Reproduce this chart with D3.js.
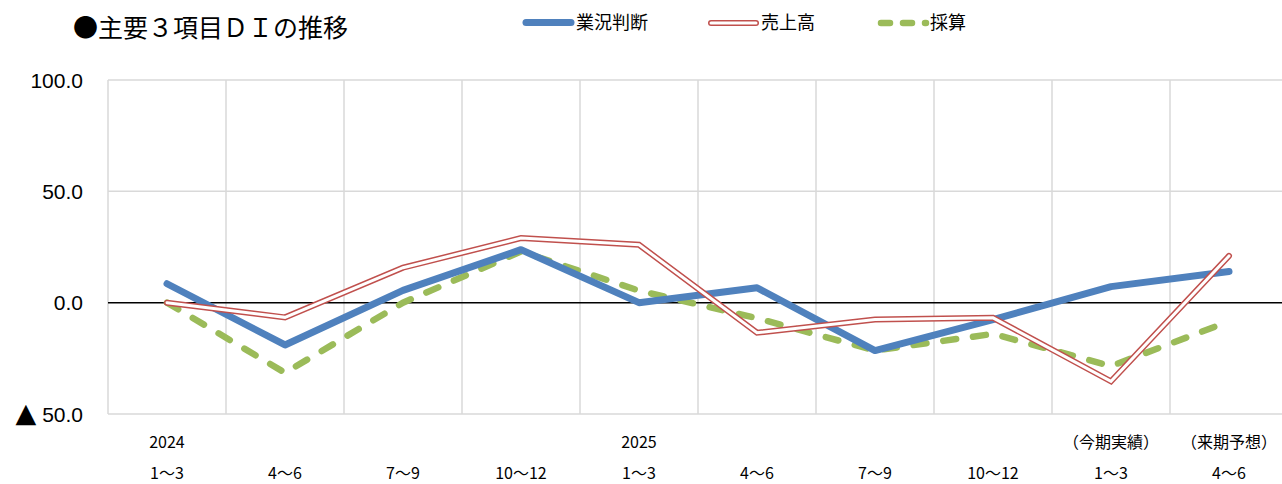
<!DOCTYPE html>
<html>
<head>
<meta charset="utf-8">
<script src="https://cdn.jsdelivr.net/npm/d3@7"></script>
<style>
  body { margin: 0; background: #fff; }
  svg text { font-family: "Noto Sans CJK JP", sans-serif; fill: #000; }
</style>
</head>
<body>
<svg id="chart" width="1282" height="484"></svg>
<script>
// quarters (x axis)
const yearLabels = ['2024', '', '', '', '2025', '', '', '', '（今期実績）', '（来期予想）'];
const quarterLabels = ['1～3', '4～6', '7～9', '10～12', '1～3', '4～6', '7～9', '10～12', '1～3', '4～6'];

// DI values
const gyokyo = [8.5, -19, 5.5, 23.8, 0, 6.7, -21.5, -7.6, 7.2, 14];
const uriage = [0, -6.6, 15.7, 29, 26, -13.5, -7.6, -6.8, -35.3, 21];
const saisan = [0, -31.5, 0, 23, 5.4, -7, -21.5, -14, -28.5, -8.4];

const yTicks = [100, 50, 0, -50];

const svg = d3.select('#chart');

const x = d3.scaleBand()
    .domain(d3.range(quarterLabels.length))
    .range([108, 1288]);
const y = d3.scaleLinear()
    .domain([-50, 100])
    .range([414, 80]);

const cx = i => x(i) + x.bandwidth() / 2;

// horizontal gridlines
svg.append('g')
    .selectAll('line')
    .data(yTicks.filter(t => t !== 0))
    .enter().append('line')
    .attr('x1', 108).attr('x2', 1288)
    .attr('y1', d => y(d)).attr('y2', d => y(d))
    .attr('stroke', '#d9d9d9').attr('stroke-width', 1.5);

// vertical gridlines (category boundaries)
svg.append('g')
    .selectAll('line')
    .data(d3.range(quarterLabels.length))
    .enter().append('line')
    .attr('x1', d => x(d)).attr('x2', d => x(d))
    .attr('y1', y(100)).attr('y2', y(-50))
    .attr('stroke', '#d9d9d9').attr('stroke-width', 1.5);

// zero line
svg.append('line')
    .attr('x1', 108).attr('x2', 1288)
    .attr('y1', y(0)).attr('y2', y(0))
    .attr('stroke', '#000').attr('stroke-width', 1.5);

// y labels (negatives get a big triangle in front)
const yLab = svg.append('g')
    .selectAll('text')
    .data(yTicks)
    .enter().append('text')
    .attr('x', 83)
    .attr('y', d => y(d))
    .attr('dy', '0.36em')
    .attr('text-anchor', 'end')
    .style('font-family', '"Liberation Sans", Arial, sans-serif')
    .style('font-size', '21px');
yLab.filter(d => d < 0).append('tspan')
    .style('font-family', '"DejaVu Sans", sans-serif')
    .style('font-size', '27px')
    .text('▲');
yLab.filter(d => d < 0).append('tspan').text(' ');
yLab.append('tspan').text(d => Math.abs(d).toFixed(1));

// x labels
svg.append('g')
    .selectAll('text')
    .data(yearLabels)
    .enter().append('text')
    .attr('x', (d, i) => cx(i))
    .attr('y', 448)
    .attr('text-anchor', 'middle')
    .style('font-size', '16px')
    .text(d => d);
svg.append('g')
    .selectAll('text')
    .data(quarterLabels)
    .enter().append('text')
    .attr('x', (d, i) => cx(i))
    .attr('y', 479)
    .attr('text-anchor', 'middle')
    .style('font-size', '16px')
    .text(d => d);

const line = d3.line()
    .x((d, i) => cx(i))
    .y(d => y(d));

// 採算 (green dashed)
svg.append('path')
    .attr('d', line(saisan))
    .attr('fill', 'none')
    .attr('stroke', '#9bbb59').attr('stroke-width', 6.5)
    .attr('stroke-linecap', 'round')
    .attr('stroke-dasharray', '13,17');

// 業況判断 (blue thick)
svg.append('path')
    .attr('d', line(gyokyo))
    .attr('fill', 'none')
    .attr('stroke', '#4f81bd').attr('stroke-width', 7)
    .attr('stroke-linejoin', 'round')
    .attr('stroke-linecap', 'round');

// 売上高 (red double line)
svg.append('path')
    .attr('d', line(uriage))
    .attr('fill', 'none')
    .attr('stroke', '#c0504d').attr('stroke-width', 6)
    .attr('stroke-linecap', 'round');
svg.append('path')
    .attr('d', line(uriage))
    .attr('fill', 'none')
    .attr('stroke', '#fff').attr('stroke-width', 3)
    .attr('stroke-linecap', 'round');

// title
svg.append('text')
    .attr('x', 73).attr('y', 37)
    .style('font-size', '25px')
    .text('●主要３項目ＤＩの推移');

// legend
const legend = svg.append('g');
legend.append('line')
    .attr('x1', 526).attr('x2', 571).attr('y1', 22.5).attr('y2', 22.5)
    .attr('stroke', '#4f81bd').attr('stroke-width', 7).attr('stroke-linecap', 'round');
legend.append('text').attr('x', 576).attr('y', 29).style('font-size', '18px').text('業況判断');

legend.append('line')
    .attr('x1', 711).attr('x2', 756).attr('y1', 23).attr('y2', 23)
    .attr('stroke', '#c0504d').attr('stroke-width', 6).attr('stroke-linecap', 'round');
legend.append('line')
    .attr('x1', 711).attr('x2', 756).attr('y1', 23).attr('y2', 23)
    .attr('stroke', '#fff').attr('stroke-width', 3).attr('stroke-linecap', 'round');
legend.append('text').attr('x', 761).attr('y', 29).style('font-size', '18px').text('売上高');

legend.append('line')
    .attr('x1', 881).attr('x2', 926).attr('y1', 23).attr('y2', 23)
    .attr('stroke', '#9bbb59').attr('stroke-width', 6.5).attr('stroke-linecap', 'round')
    .attr('stroke-dasharray', '9,13');
legend.append('text').attr('x', 930).attr('y', 29).style('font-size', '18px').text('採算');
</script>
</body>
</html>
